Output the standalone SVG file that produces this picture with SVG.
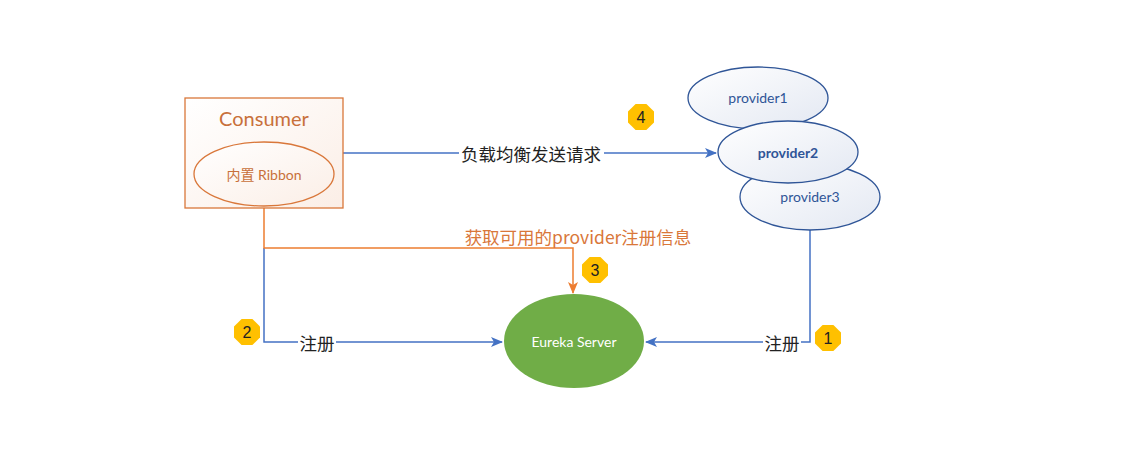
<svg xmlns="http://www.w3.org/2000/svg" width="1138" height="450" viewBox="0 0 1138 450">
<defs>
<linearGradient id="pg" x1="0" y1="0" x2="1" y2="1"><stop offset="0" stop-color="#ffffff"/><stop offset="1" stop-color="#e3e8f2"/></linearGradient>
<linearGradient id="cg" x1="0" y1="0" x2="1" y2="1"><stop offset="0" stop-color="#ffffff"/><stop offset="1" stop-color="#fbeee6"/></linearGradient>
<marker id="ab" markerWidth="12" markerHeight="10" refX="11" refY="5" orient="auto" markerUnits="userSpaceOnUse"><path d="M0,0 L12,5 L0,10 L3,5 Z" fill="#4472C4"/></marker>
<marker id="ao" markerWidth="12" markerHeight="10" refX="11" refY="5" orient="auto" markerUnits="userSpaceOnUse"><path d="M0,0 L12,5 L0,10 L3,5 Z" fill="#ED7D31"/></marker>
<g id="oct"><polygon points="-5.4,-13 5.4,-13 13,-5.4 13,5.4 5.4,13 -5.4,13 -13,5.4 -13,-5.4" fill="#FFC000"/></g>
</defs>
<style>
.blue{stroke:#4472C4;stroke-width:1.5;fill:none}
.org{stroke:#ED7D31;stroke-width:1.5;fill:none}
.lbl{font-family:"Noto Sans CJK SC","Liberation Sans",sans-serif;font-size:17.5px;fill:#222;text-anchor:middle;dominant-baseline:central}
.prov{fill:url(#pg);stroke:#2F5597;stroke-width:1.3}
.ptxt{font-family:Lato,"Liberation Sans",sans-serif;font-size:14px;fill:#2F5597;text-anchor:middle;dominant-baseline:central}
.num{font-family:"Liberation Sans",sans-serif;font-size:16px;fill:#222;text-anchor:middle;dominant-baseline:central}
</style>
<rect width="1138" height="450" fill="#ffffff"/>
<g id="connectors">
<path class="blue" d="M343,153 H716" marker-end="url(#ab)"/>
<rect x="459" y="142" width="145" height="22" fill="#fff"/>
<text class="lbl" x="531" y="153">负载均衡发送请求</text>
<path class="blue" d="M264,248 V342 H502" marker-end="url(#ab)"/>
<rect x="298" y="331" width="38" height="22" fill="#fff"/>
<text class="lbl" x="317" y="342">注册</text>
<path class="blue" d="M810,230 V342 H646" marker-end="url(#ab)"/>
<rect x="763" y="331" width="38" height="22" fill="#fff"/>
<text class="lbl" x="782" y="342">注册</text>
<path class="org" d="M264,208 V248 H573 V293" marker-end="url(#ao)"/>
<text class="lbl" x="578" y="236" style="fill:#D9773A">获取可用的provider注册信息</text>
</g>
<g id="consumer">
<rect x="185" y="98" width="158" height="110" fill="url(#cg)" stroke="#D9773A" stroke-width="1.3"/>
<text x="264" y="118" font-family="Lato,'Liberation Sans',sans-serif" font-size="20" fill="#C8703A" text-anchor="middle" dominant-baseline="central">Consumer</text>
</g>
<g id="ribbon">
<ellipse cx="264" cy="174" rx="70" ry="32" fill="url(#cg)" stroke="#D9773A" stroke-width="1.3"/>
<text x="264" y="174" font-family="Lato,'Noto Sans CJK SC',sans-serif" font-size="14" fill="#C8703A" text-anchor="middle" dominant-baseline="central">内置 Ribbon</text>
</g>
<g id="provider3">
<ellipse class="prov" cx="810" cy="197" rx="70" ry="33"/>
<text class="ptxt" x="810" y="196">provider3</text>
</g>
<g id="provider1">
<ellipse class="prov" cx="758" cy="98" rx="70" ry="31"/>
<text class="ptxt" x="758" y="97">provider1</text>
</g>
<g id="provider2">
<ellipse class="prov" cx="788" cy="152" rx="70" ry="31"/>
<text class="ptxt" x="788" y="152" font-weight="bold">provider2</text>
</g>
<g id="eureka">
<ellipse cx="574" cy="341" rx="70" ry="47" fill="#70AD47"/>
<text x="574" y="341" font-family="Lato,'Liberation Sans',sans-serif" font-size="14" fill="#ffffff" text-anchor="middle" dominant-baseline="central">Eureka Server</text>
</g>
<g id="badge1"><use href="#oct" x="828" y="338"/><text class="num" x="828" y="338">1</text></g>
<g id="badge2"><use href="#oct" x="247" y="332"/><text class="num" x="247" y="332">2</text></g>
<g id="badge3"><use href="#oct" x="595" y="270"/><text class="num" x="595" y="270">3</text></g>
<g id="badge4"><use href="#oct" x="641" y="117"/><text class="num" x="641" y="117">4</text></g>
</svg>
